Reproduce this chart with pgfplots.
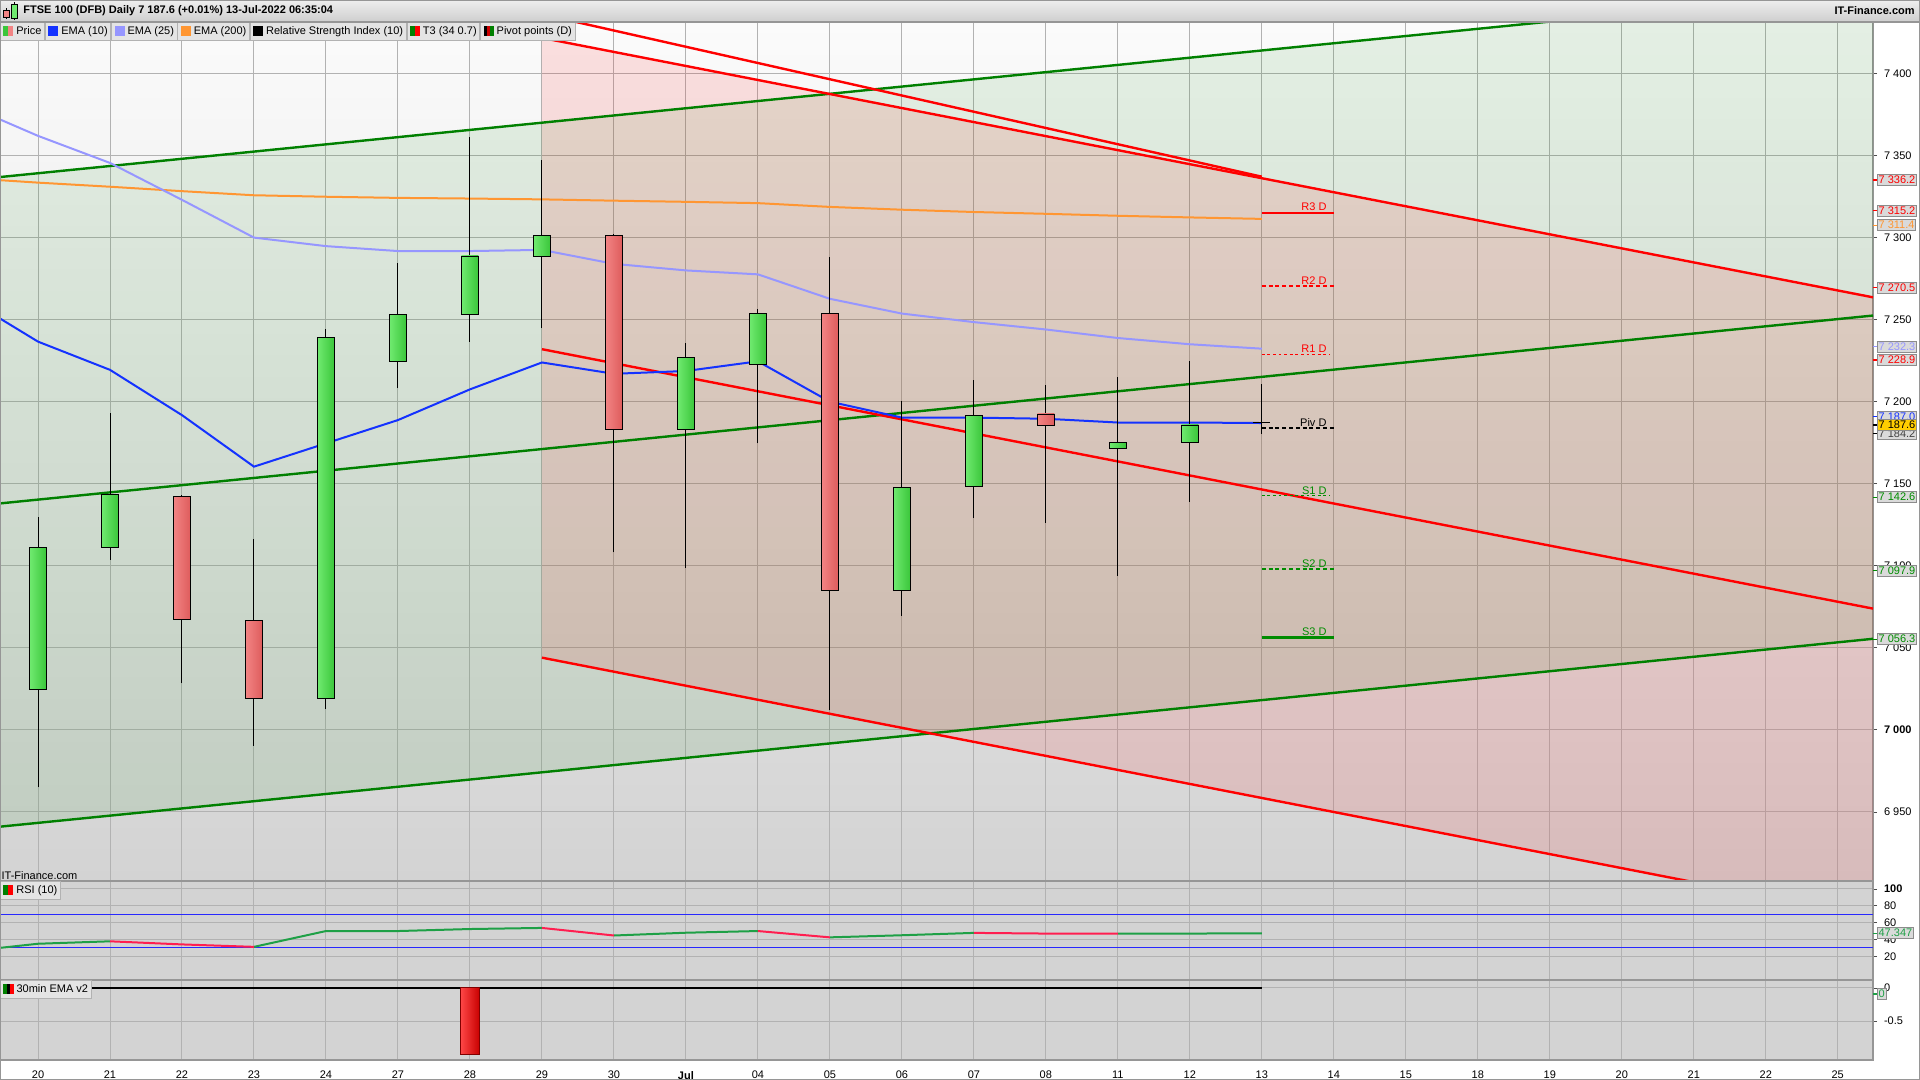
\documentclass[border=0pt]{standalone}
\usepackage{pgfplots}
\pgfplotsset{compat=1.18}
\usepackage{fontspec}
\setmainfont{Liberation Sans}

\definecolor{bgtop}{RGB}{251,251,251}
\definecolor{bgbot}{RGB}{211,211,211}
\definecolor{panelbg}{RGB}{211,211,211}
\definecolor{gridc}{RGB}{178,178,178}
\definecolor{axisc}{RGB}{150,150,150}
\definecolor{trgreen}{RGB}{0,128,0}
\definecolor{trred}{RGB}{255,0,0}
\definecolor{ema10}{RGB}{20,50,255}
\definecolor{ema25}{RGB}{150,150,255}
\definecolor{ema200}{RGB}{255,150,50}
\definecolor{cgL}{RGB}{112,234,112}
\definecolor{cgR}{RGB}{58,198,58}
\definecolor{crL}{RGB}{242,132,132}
\definecolor{crR}{RGB}{222,92,92}
\definecolor{barL}{RGB}{255,72,72}
\definecolor{barR}{RGB}{200,0,0}
\definecolor{rsig}{RGB}{30,160,70}
\definecolor{rsir}{RGB}{255,30,80}
\definecolor{rsiblue}{RGB}{40,40,255}
\definecolor{tagbg}{RGB}{218,218,218}
\definecolor{tagbd}{RGB}{140,140,140}
\definecolor{pricey}{RGB}{255,205,0}
\definecolor{hdrtop}{RGB}{238,238,238}
\definecolor{hdrbot}{RGB}{206,206,206}
\definecolor{lboxbg}{RGB}{228,228,228}
\definecolor{pivgreen}{RGB}{0,140,0}

\newcommand{\fs}{\fontsize{5.5bp}{6.6bp}\selectfont}
% candle body / bar: left x, right x, from, to, style
\newcommand{\cdl}[5]{\addplot[#5] coordinates {(#1,#3) (#2,#3) (#2,#4) (#1,#4)} -- cycle;}
\newcommand{\ico}[2]{\textcolor{#1}{\rule[-0.6bp]{2.5bp}{5bp}}\textcolor{#2}{\rule[-0.6bp]{2.5bp}{5bp}}}
\newcommand{\sq}[1]{\textcolor{#1}{\rule[-0.6bp]{5bp}{5bp}}}

\pgfplotsset{
  panel/.style={scale only axis, width=936.5bp, xmin=-0.528, xmax=25.49,
    xtick={0,...,25}, xmajorgrids, ymajorgrids,
    grid style={draw=gridc, line width=0.5bp},
    axis line style={draw=axisc, line width=0.6bp},
    xtick style={draw=none},
    ytick pos=right, yticklabel pos=right,
    ytick style={draw=black!70, line width=0.4bp},
    tick align=outside, major tick length=2bp,
    every tick label/.append style={font=\fs, text=black},
    clip mode=individual},
  gb/.style={draw=black, line width=0.45bp, left color=cgL, right color=cgR},
  rb/.style={draw=black, line width=0.45bp, left color=crL, right color=crR},
  trend/.style={line width=1.2bp},
}

\tikzset{
  vtag/.style={draw=tagbd, fill=tagbg, line width=0.4bp, inner xsep=0.6bp, inner ysep=0.7bp,
    anchor=west, xshift=2bp, font=\fs, text height=3.9bp, text depth=0.2bp},
  lbox/.style={draw=gray!60, fill=lboxbg, line width=0.4bp, font=\fs, inner xsep=1.5bp,
    inner ysep=0pt, minimum height=9bp, text height=4bp, text depth=1bp, anchor=north west},
}

\begin{document}
\begin{tikzpicture}
\useasboundingbox (0,0) rectangle (960bp,540bp);
\fill[white] (0,0) rectangle (960bp,540bp);
\shade[top color=hdrtop, bottom color=hdrbot] (0,529bp) rectangle (960bp,540bp);

% ---------------- main price panel ----------------
\begin{axis}[panel, name=main, at={(0,99.5bp)}, anchor=south west, height=429.5bp,
  ymin=6907.9, ymax=7431.4, ytick={6950,7000,...,7400},
  yticklabels={6 950,\textbf{7 000},7 050,7 100,7 150,7 200,7 250,7 300,7 350,7 400},
  xticklabels={},
  axis background/.style={top color=bgtop, bottom color=bgbot}]

% channels
\addplot[draw=none, fill=trgreen, fill opacity=0.09] coordinates {(-0.528,6941) (25.49,7055.5) (25.49,7451.4) (-0.528,7336.9)} -- cycle;
\addplot[draw=none, fill=trred, fill opacity=0.11] coordinates {(7,7044) (25.49,6885.9) (25.49,7263.6) (7,7421.7)} -- cycle;

\addplot[trgreen, trend] coordinates {(-0.528,7336.9) (25.49,7451.4)};
\addplot[trgreen, trend] coordinates {(-0.528,7138) (25.49,7252.5)};
\addplot[trgreen, trend] coordinates {(-0.528,6941) (25.49,7055.5)};
\addplot[trred, trend] coordinates {(7,7421.7) (25.49,7263.6)};
\addplot[trred, trend] coordinates {(6,7446) (17,7337.1)};
\addplot[trred, trend] coordinates {(7,7232) (25.49,7073.9)};
\addplot[trred, trend] coordinates {(7,7044) (25.49,6885.9)};

% moving averages
\addplot[ema200, line width=1bp] coordinates {(-0.528,7335) (0,7333.5) (1,7331) (2,7328.3) (3,7325.8) (4,7324.9) (5,7324.2) (6,7323.8) (7,7323.3) (8,7322.5) (9,7321.8) (10,7321) (11,7318.7) (12,7317) (13,7315.6) (14,7314.5) (15,7313.3) (16,7312.3) (17,7311.4)};
\addplot[ema25, line width=1bp] coordinates {(-0.528,7372) (0,7362) (1,7345.5) (2,7323) (3,7300) (4,7294.8) (5,7291.8) (6,7291.8) (7,7292.5) (8,7284) (9,7280) (10,7277.6) (11,7262.7) (12,7253.7) (13,7248.5) (14,7244) (15,7238.8) (16,7235) (17,7232.3)};
\addplot[ema10, line width=1bp] coordinates {(-0.528,7250.7) (0,7236.6) (1,7219.4) (2,7191.8) (3,7160.4) (4,7174.6) (5,7188.8) (6,7207.5) (7,7223.9) (8,7217) (9,7218.7) (10,7224.6) (11,7200) (12,7190.3) (13,7190.3) (14,7189.6) (15,7187.3) (16,7187.3) (17,7187)};

% wicks
\addplot[black, line width=0.5bp, unbounded coords=jump] coordinates {
(0,6965) (0,7129.9) (0,nan)
(1,7103.7) (1,7193.3) (1,nan)
(2,7028.4) (2,7143) (2,nan)
(3,6990.3) (3,7116.4) (3,nan)
(4,7012.7) (4,7244.5) (4,nan)
(5,7208.2) (5,7284.3) (5,nan)
(6,7236.6) (6,7361.2) (6,nan)
(7,7244.8) (7,7347) (7,nan)
(8,7108.2) (8,7302) (8,nan)
(9,7098.5) (9,7235.8) (9,nan)
(10,7174.6) (10,7256.7) (10,nan)
(11,7011.9) (11,7288) (11,nan)
(12,7069.4) (12,7200.7) (12,nan)
(13,7129.1) (13,7213.4) (13,nan)
(14,7126.1) (14,7210.4) (14,nan)
(15,7094) (15,7214.9) (15,nan)
(16,7138.8) (16,7224.6) (16,nan)
(17,7180.3) (17,7211)};

% bodies
\cdl{-0.118}{0.118}{7024.6}{7111.2}{gb}
\cdl{0.882}{1.118}{7111}{7143.3}{gb}
\cdl{1.882}{2.118}{7142.5}{7067.2}{rb}
\cdl{2.882}{3.118}{7066.4}{7019.4}{rb}
\cdl{3.882}{4.118}{7019.4}{7239}{gb}
\cdl{4.882}{5.118}{7224.6}{7253.3}{gb}
\cdl{5.882}{6.118}{7253.3}{7288.8}{gb}
\cdl{6.882}{7.118}{7288.8}{7301.5}{gb}
\cdl{7.882}{8.118}{7301.5}{7182.8}{rb}
\cdl{8.882}{9.118}{7182.8}{7226.9}{gb}
\cdl{9.882}{10.118}{7222.4}{7253.7}{gb}
\cdl{10.882}{11.118}{7253.7}{7085.1}{rb}
\cdl{11.882}{12.118}{7085.1}{7147.8}{gb}
\cdl{12.882}{13.118}{7148.5}{7191.8}{gb}
\cdl{13.882}{14.118}{7192.5}{7185.8}{rb}
\cdl{14.882}{15.118}{7171.6}{7175.4}{gb}
\cdl{15.882}{16.118}{7175.4}{7185.8}{gb}
\addplot[black, line width=0.5bp] coordinates {(16.88,7187.2) (17.12,7187.2)};

% daily pivot points
\addplot[trred, line width=1.1bp] coordinates {(17,7315.2) (18,7315.2)};
\addplot[trred, line width=0.9bp, dash pattern=on 2bp off 1.4bp] coordinates {(17,7270.5) (18,7270.5)};
\addplot[trred, line width=0.5bp, dash pattern=on 1.4bp off 1.4bp] coordinates {(17,7228.9) (17.94,7228.9)};
\addplot[black, line width=0.9bp, dash pattern=on 2bp off 1.4bp] coordinates {(17,7184.2) (18,7184.2)};
\addplot[pivgreen, line width=0.5bp, dash pattern=on 1.4bp off 1.4bp] coordinates {(17,7142.6) (17.94,7142.6)};
\addplot[pivgreen, line width=0.9bp, dash pattern=on 2bp off 1.4bp] coordinates {(17,7097.9) (18,7097.9)};
\addplot[pivgreen, line width=1.1bp] coordinates {(17,7056.3) (18,7056.3)};
\node[font=\fs, text=trred, anchor=south east, inner sep=0.6bp] at (axis cs:17.92,7315.2) {R3 D};
\node[font=\fs, text=trred, anchor=south east, inner sep=0.6bp] at (axis cs:17.92,7270.5) {R2 D};
\node[font=\fs, text=trred, anchor=south east, inner sep=0.6bp] at (axis cs:17.92,7228.9) {R1 D};
\node[font=\fs, text=black, anchor=south east, inner sep=0.6bp] at (axis cs:17.92,7184.2) {Piv D};
\node[font=\fs, text=pivgreen, anchor=south east, inner sep=0.6bp] at (axis cs:17.92,7142.6) {S1 D};
\node[font=\fs, text=pivgreen, anchor=south east, inner sep=0.6bp] at (axis cs:17.92,7097.9) {S2 D};
\node[font=\fs, text=pivgreen, anchor=south east, inner sep=0.6bp] at (axis cs:17.92,7056.3) {S3 D};

\node[font=\fs, anchor=south west, inner sep=0.6bp] at (rel axis cs:0,0) {IT-Finance.com};

\coordinate (m1) at (axis cs:25.49,7335.1);
\coordinate (m2) at (axis cs:25.49,7316.4);
\coordinate (m3) at (axis cs:25.49,7307.5);
\coordinate (m4) at (axis cs:25.49,7269.4);
\coordinate (m5) at (axis cs:25.49,7233.6);
\coordinate (m6) at (axis cs:25.49,7225.4);
\coordinate (m7) at (axis cs:25.49,7191);
\coordinate (m8) at (axis cs:25.49,7185.8);
\coordinate (m9) at (axis cs:25.49,7180.6);
\coordinate (m10) at (axis cs:25.49,7141.8);
\coordinate (m11) at (axis cs:25.49,7097);
\coordinate (m12) at (axis cs:25.49,7055.2);
\end{axis}

% ---------------- RSI panel ----------------
\begin{axis}[panel, name=rsi, at={(0,50bp)}, anchor=south west, height=49.5bp,
  ymin=-8.2, ymax=109.5, ytick={20,40,60,80,100}, yticklabels={20,40,60,80,\textbf{100}},
  xticklabels={}, axis background/.style={fill=panelbg}]
\addplot[rsiblue, line width=0.5bp] coordinates {(-0.528,70) (25.49,70)};
\addplot[rsiblue, line width=0.5bp] coordinates {(-0.528,30) (25.49,30)};
\addplot[rsig, line width=1bp, unbounded coords=jump] coordinates {(-0.528,30) (0,34.9) (1,37.8) (1,nan) (3,31.2) (4,50) (5,50) (6,52.4) (7,53.7) (7,nan) (8,44.7) (9,48) (10,50) (10,nan) (11,42.5) (12,45) (13,47.8) (13,nan) (15,46.8) (16,47) (17,47.35)};
\addplot[rsir, line width=1bp, unbounded coords=jump] coordinates {(1,37.8) (2,34.1) (3,31.2) (3,nan) (7,53.7) (8,44.7) (8,nan) (10,50) (11,42.5) (11,nan) (13,47.8) (14,47) (15,46.8)};
\coordinate (r1) at (axis cs:25.49,47.347);
\end{axis}

% ---------------- 30min EMA panel ----------------
\begin{axis}[panel, name=bot, at={(0,10bp)}, anchor=south west, height=40bp,
  ymin=-1.09, ymax=0.121, ytick={-0.5,0}, yticklabels={-0.5,0},
  xticklabels={20,21,22,23,24,27,28,29,30,\textbf{Jul},04,05,06,07,08,11,12,13,14,15,18,19,20,21,22,25},
  axis background/.style={fill=panelbg}]
\addplot[black, line width=0.6bp] coordinates {(-0.528,0) (17,0)};
\cdl{5.865}{6.135}{0}{-1}{draw=black!50!red, line width=0.5bp, left color=barL, right color=barR}
\coordinate (b1) at (axis cs:25.49,-0.09);
\end{axis}

% ---------------- value tags on the right ----------------
\foreach \c/\col in {m1/trred,m2/trred,m3/ema200,m4/trred,m5/ema25,m6/trred,m7/ema10,m9/black,m8/black,m10/pivgreen,m11/pivgreen,m12/pivgreen,r1/rsig,b1/rsig}
  \draw[\col, line width=0.6bp] (\c) -- ++(2bp,0);
\node[vtag, text=trred] at (m1) {7 336.2};
\node[vtag, text=trred] at (m2) {7 315.2};
\node[vtag, text=ema200] at (m3) {7 311.4};
\node[vtag, text=trred] at (m4) {7 270.5};
\node[vtag, text=ema25] at (m5) {7 232.3};
\node[vtag, text=trred] at (m6) {7 228.9};
\node[vtag, text=ema10] at (m7) {7 187.0};
\node[vtag, text=black!75] at (m9) {7 184.2};
\node[vtag, fill=pricey, text=black] at (m8) {7 187.6};
\node[vtag, text=pivgreen] at (m10) {7 142.6};
\node[vtag, text=pivgreen] at (m11) {7 097.9};
\node[vtag, text=pivgreen] at (m12) {7 056.3};
\node[vtag, text=rsig] at (r1) {47.347};
\node[vtag, text=rsig] at (b1) {0};

% ---------------- legend row and panel titles ----------------
\node[lbox] (l1) at (main.north west) {\ico{cgR}{crL}\hspace{1.5bp}Price};
\node[lbox] (l2) at (l1.north east) {\sq{ema10}\hspace{1.5bp}EMA (10)};
\node[lbox] (l3) at (l2.north east) {\sq{ema25}\hspace{1.5bp}EMA (25)};
\node[lbox] (l4) at (l3.north east) {\sq{ema200}\hspace{1.5bp}EMA (200)};
\node[lbox] (l5) at (l4.north east) {\sq{black}\hspace{1.5bp}Relative Strength Index (10)};
\node[lbox] (l6) at (l5.north east) {\ico{trgreen}{trred}\hspace{1.5bp}T3 (34 0.7)};
\node[lbox] (l7) at (l6.north east) {\textcolor{black}{\rule[-0.6bp]{1.7bp}{5bp}}\textcolor{trred!80!black}{\rule[-0.6bp]{1.7bp}{5bp}}\textcolor{trgreen}{\rule[-0.6bp]{1.7bp}{5bp}}\hspace{1.5bp}Pivot points (D)};
\node[lbox] at (rsi.north west) {\ico{trgreen}{trred}\hspace{1.5bp}RSI (10)};
\node[lbox] at (bot.north west) {\textcolor{trgreen}{\rule[-0.6bp]{1.7bp}{5bp}}\textcolor{black}{\rule[-0.6bp]{1.7bp}{5bp}}\textcolor{trred}{\rule[-0.6bp]{1.7bp}{5bp}}\hspace{1.5bp}30min EMA v2};

% ---------------- header ----------------
\draw[black, line width=0.3bp] (3bp,530.5bp) -- (3bp,536bp);
\fill[crL, draw=black, line width=0.3bp] (1.6bp,531.5bp) rectangle (4.4bp,535bp);
\draw[black, line width=0.3bp] (7bp,530bp) -- (7bp,539bp);
\fill[cgL, draw=black, line width=0.3bp] (5.6bp,531bp) rectangle (8.4bp,538bp);
\node[anchor=west, font=\fs\bfseries, inner sep=0pt] at (11.5bp,534.6bp) {FTSE 100 (DFB) Daily 7 187.6 (+0.01\%) 13-Jul-2022 06:35:04};
\node[anchor=east, font=\fs\bfseries, inner sep=0pt] at (957.5bp,534.6bp) {IT-Finance.com};
\draw[axisc, line width=0.6bp] (0,529bp) -- (960bp,529bp);
\draw[axisc, line width=0.8bp] (0,0) rectangle (960bp,540bp);
\end{tikzpicture}
\end{document}
